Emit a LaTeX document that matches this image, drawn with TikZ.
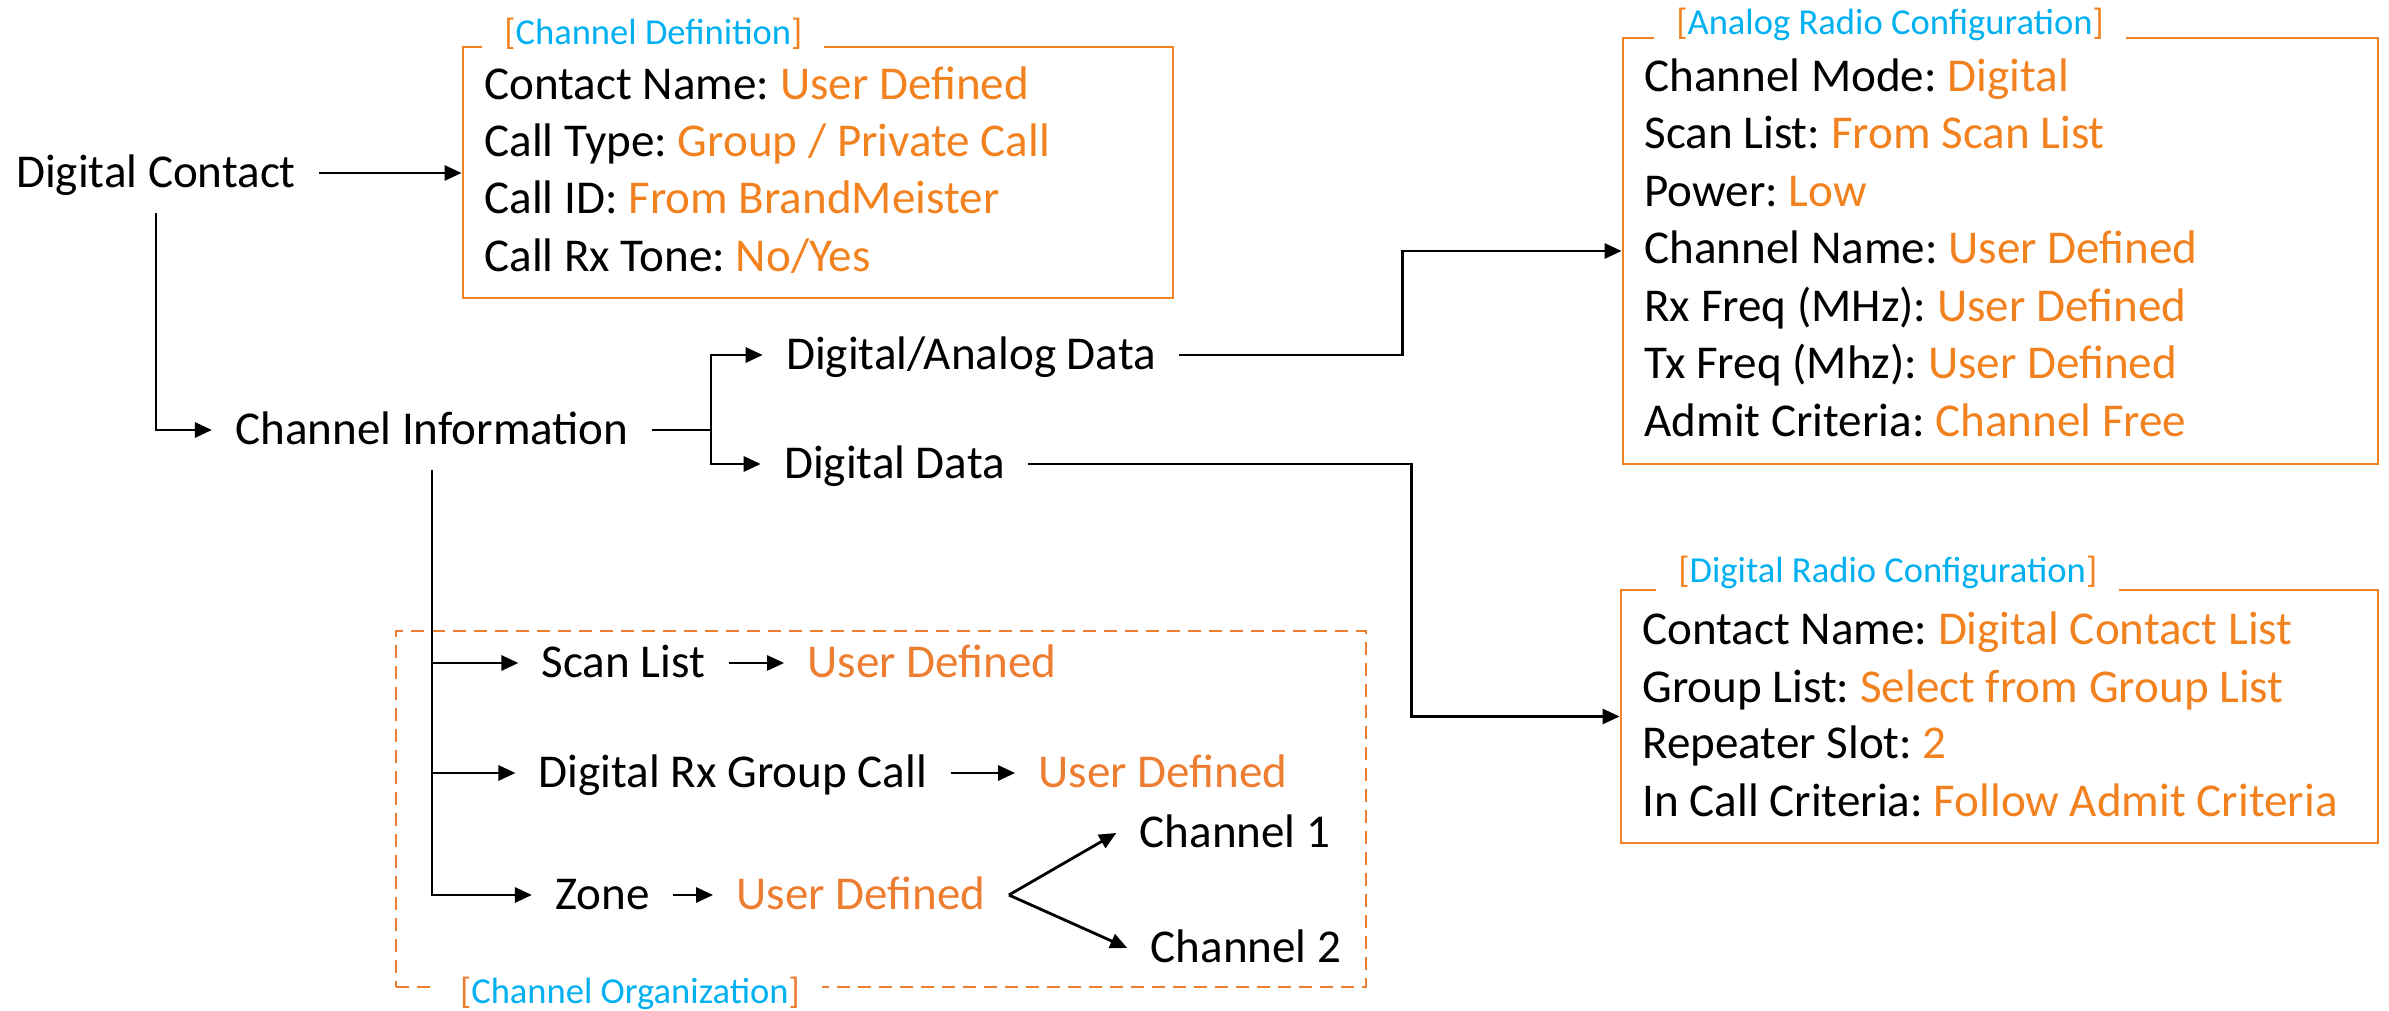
\documentclass[tikz,border=0pt]{standalone}
\usepackage{fontspec}
\setmainfont{Carlito}
\usetikzlibrary{arrows.meta}

\definecolor{valorange}{HTML}{F28220}
\definecolor{orgorange}{HTML}{ED7D31}
\definecolor{tagblue}{HTML}{00B0F0}

\newcommand{\cval}[1]{\textcolor{valorange}{#1}}
\newcommand{\tagtext}[2]{\textcolor{#1}{[}\textcolor{tagblue}{#2}\textcolor{#1}{]}}
\frenchspacing

\begin{document}
\begin{tikzpicture}[
  >={Triangle[length=0.17cm,width=0.15cm]},
  line width=0.8pt,
  flow/.style={anchor=base, inner sep=0.22cm, text height=0.32cm, text depth=0.02cm, font=\fontsize{13.4}{16}\selectfont},
  entry/.style={anchor=base west, inner sep=0, font=\fontsize{13.4}{16}\selectfont},
  cfgbox/.style={draw=valorange, inner sep=0},
  tag/.style={fill=white, inner xsep=0.22cm, inner ysep=0.1cm, font=\fontsize{10.4}{12}\selectfont}]
  \useasboundingbox (0,0) rectangle (23.89,-10.11);

  % left side: contact and channel information
  \node[flow] (dc) at (1.56,-1.88) {Digital Contact};
  \node[flow] (info) at (4.32,-4.45) {Channel Information};
  \node[flow] (dad) at (9.71,-3.70) {Digital/Analog Data};
  \node[flow] (dd) at (8.945,-4.79) {Digital Data};

  % channel definition
  \node[cfgbox, minimum width=7.10cm, minimum height=2.51cm] (defbox) at (8.18,-1.725) {};
  \node[tag, anchor=base west] (deftag) at (4.81,-0.45) {\tagtext{valorange}{Channel Definition}};
  \node[entry] (def1) at (4.83,-1.00) {Contact Name: \cval{User Defined}};
  \node[entry] (def2) at (4.83,-1.57) {Call Type: \cval{Group / Private Call}};
  \node[entry] (def3) at (4.83,-2.14) {Call ID: \cval{From BrandMeister}};
  \node[entry] (def4) at (4.83,-2.72) {Call Rx Tone: \cval{No/Yes}};

  % analog radio configuration
  \node[cfgbox, minimum width=7.55cm, minimum height=4.26cm] (anabox) at (20.005,-2.51) {};
  \node[tag, anchor=base west] (anatag) at (16.53,-0.35) {\tagtext{valorange}{Analog Radio Configuration}};
  \node[entry] (ana1) at (16.43,-0.92) {Channel Mode: \cval{Digital}};
  \node[entry] (ana2) at (16.43,-1.49) {Scan List: \cval{From Scan List}};
  \node[entry] (ana3) at (16.43,-2.07) {Power: \cval{Low}};
  \node[entry] (ana4) at (16.43,-2.64) {Channel Name: \cval{User Defined}};
  \node[entry] (ana5) at (16.43,-3.22) {Rx Freq (MHz): \cval{User Defined}};
  \node[entry] (ana6) at (16.43,-3.79) {Tx Freq (Mhz): \cval{User Defined}};
  \node[entry] (ana7) at (16.43,-4.37) {Admit Criteria: \cval{Channel Free}};

  % digital radio configuration
  \node[cfgbox, minimum width=7.57cm, minimum height=2.53cm] (digbox) at (19.995,-7.165) {};
  \node[tag, anchor=base west] (digtag) at (16.55,-5.83) {\tagtext{valorange}{Digital Radio Configuration}};
  \node[entry] (dig1) at (16.41,-6.45) {Contact Name: \cval{Digital Contact List}};
  \node[entry] (dig2) at (16.41,-7.03) {Group List: \cval{Select from Group List}};
  \node[entry] (dig3) at (16.41,-7.59) {Repeater Slot: \cval{2}};
  \node[entry] (dig4) at (16.41,-8.17) {In Call Criteria: \cval{Follow Admit Criteria}};

  % channel organization
  \node[draw=orgorange, dash pattern=on 0.13cm off 0.08cm, inner sep=0, minimum width=9.70cm, minimum height=3.56cm] (orgbox) at (8.81,-8.09) {};
  \node[tag, anchor=base] (orgtag) at (6.30,-10.04) {\tagtext{orgorange}{Channel Organization}};
  \node[flow] (scan) at (6.235,-6.78) {Scan List};
  \node[flow, text=orgorange] (scanud) at (9.32,-6.78) {User Defined};
  \node[flow] (rxg) at (7.33,-7.88) {Digital Rx Group Call};
  \node[flow, text=orgorange] (rxgud) at (11.63,-7.88) {User Defined};
  \node[flow] (zone) at (6.025,-9.10) {Zone};
  \node[flow, text=orgorange] (zoneud) at (8.61,-9.10) {User Defined};
  \node[flow] (ch1) at (12.35,-8.48) {Channel 1};
  \node[flow] (ch2) at (12.46,-9.63) {Channel 2};

  \draw[->] (dc.east) -- (dc.east -| defbox.west);
  \draw[->] (dc.south) |- (info.west);
  \draw (info.east) -- ++(0.59,0) coordinate (fork);
  \draw[->] (fork) |- (dad.west);
  \draw[->] (fork) |- (dd.west);
  \draw[->] (dad.east) -- ++(2.23,0) |- (anabox.west);
  \draw[->] (dd.east) -- ++(3.83,0) |- (digbox.west);
  \draw[->] (info.south) |- (scan.west);
  \draw[->] (info.south) |- (rxg.west);
  \draw[->] (info.south) |- (zone.west);
  \draw[->] (scan) -- (scanud);
  \draw[->] (rxg) -- (rxgud);
  \draw[->] (zone) -- (zoneud);
  \draw[->] (zoneud.east) -- (ch1.west);
  \draw[->] (zoneud.east) -- (ch2.west);
\end{tikzpicture}
\end{document}
